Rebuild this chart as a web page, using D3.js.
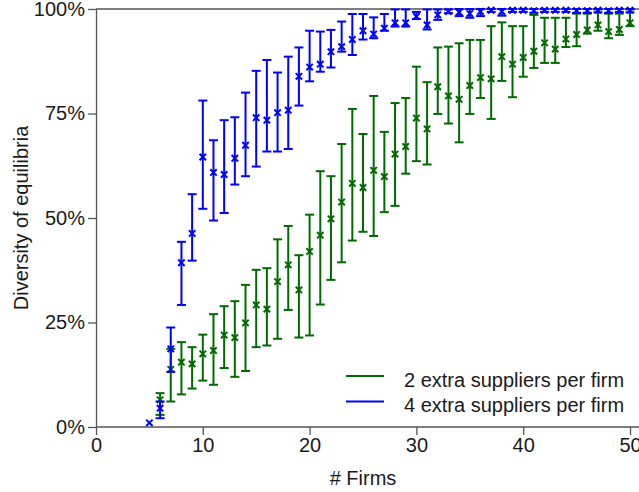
<!DOCTYPE html>
<html>
<head>
<meta charset="utf-8">
<script src="https://cdn.jsdelivr.net/npm/d3@7"></script>
<style>
  html, body { margin: 0; padding: 0; background: #fff; }
  svg { display: block; font-family: "Liberation Sans", Arial, sans-serif; }
</style>
</head>
<body>
<svg id="chart" width="639" height="492"></svg>
<script>
// Number of firms for each series
const firmsTwo  = d3.range(6, 51);
const firmsFour = d3.range(5, 51);

// 2 extra suppliers per firm: mean, lower and upper bound (%)
const meanTwo = [6.5, 13.8, 15.5, 15.1, 17.5, 18.3, 22.0, 21.4, 24.9, 29.2,
  28.2, 34.8, 38.8, 32.8, 42.0, 45.9, 49.8, 53.8, 58.3, 57.3,
  61.4, 59.9, 65.3, 67.1, 73.9, 71.3, 81.4, 79.2, 78.4, 81.7,
  83.6, 83.3, 88.6, 86.8, 88.4, 89.9, 91.9, 90.4, 92.8, 93.9,
  95.0, 96.2, 94.6, 95.1, 96.7];
const lowTwo = [2.9, 6.1, 7.8, 9.2, 11.1, 10.1, 14.1, 12.0, 13.4, 19.1,
  19.5, 21.1, 28.0, 21.4, 21.9, 29.3, 35.2, 39.4, 44.6, 46.7,
  45.7, 51.4, 52.9, 60.6, 63.6, 62.8, 74.9, 72.6, 68.1, 74.9,
  78.7, 73.7, 82.8, 78.9, 83.8, 85.9, 87.1, 87.1, 90.9, 91.1,
  94.1, 94.8, 93.0, 93.8, 95.9];
const highTwo = [8.1, 18.7, 20.3, 19.1, 22.1, 27.0, 28.9, 30.1, 34.0, 37.6,
  38.0, 44.9, 48.1, 41.1, 50.8, 61.2, 60.0, 67.7, 76.1, 70.1,
  79.2, 70.6, 77.5, 78.7, 86.2, 82.5, 90.8, 91.0, 91.8, 92.6,
  92.6, 95.9, 96.8, 95.9, 95.9, 98.6, 97.9, 97.9, 97.9, 98.9,
  98.9, 99.9, 98.9, 98.9, 99.9];

// 4 extra suppliers per firm: mean, lower and upper bound (%)
const meanFour = [1.0, 4.5, 18.7, 39.3, 46.3, 64.6, 60.9, 60.4, 64.3, 67.4,
  74.0, 73.4, 75.2, 75.8, 83.9, 86.1, 86.8, 89.8, 91.0, 92.7,
  94.8, 94.0, 95.4, 96.7, 96.7, 98.2, 96.2, 98.6, 99.4, 99.2,
  98.9, 99.4, 99.7, 99.4, 99.7, 99.7, 99.6, 99.7, 99.7, 99.7,
  99.6, 99.6, 99.7, 99.6, 99.7, 99.7];
const lowFour = [1.0, 2.1, 13.2, 29.2, 39.8, 52.2, 49.4, 51.2, 58.0, 60.0,
  62.3, 65.9, 65.9, 66.5, 76.9, 82.7, 85.0, 86.0, 89.8, 89.0,
  92.7, 93.0, 94.8, 95.8, 95.8, 97.6, 95.1, 97.4, 99.0, 98.3,
  97.9, 98.3, 99.3, 98.4, 99.3, 99.3, 99.1, 99.3, 99.3, 99.3,
  99.1, 99.1, 99.2, 99.1, 99.3, 99.2];
const highFour = [1.0, 6.1, 23.8, 44.3, 55.7, 78.1, 68.6, 73.4, 74.1, 80.0,
  85.2, 87.8, 84.8, 88.6, 90.8, 94.8, 94.6, 95.0, 97.0, 98.8,
  98.8, 98.0, 98.8, 99.9, 99.9, 99.3, 99.9, 99.9, 99.9, 100,
  100, 100, 100, 100, 100, 100, 100, 100, 100, 100,
  100, 100, 100, 100, 100, 100];

// Axis ticks and labels
const xTicks = [0, 10, 20, 30, 40, 50];
const yTicks = [0, 25, 50, 75, 100];
const legendLabels = ["2 extra suppliers per firm", "4 extra suppliers per firm"];
const seriesColors = ["#006a00", "#0000ff"];

const svg = d3.select("#chart");
const W = 639;

const x = d3.scaleLinear().domain([0, 50]).range([96, 630]);
const y = d3.scaleLinear().domain([0, 100]).range([427, 9]);

const axisColor = "#555";
const textColor = "#1a1a1a";

// Frame lines: top border and extended bottom baseline
svg.append("line")
  .attr("x1", x(0)).attr("x2", W)
  .attr("y1", y(100)).attr("y2", y(100))
  .attr("stroke", axisColor).attr("stroke-width", 1.3);

// x axis
const gx = svg.append("g")
  .attr("transform", `translate(0,${y(0)})`)
  .call(d3.axisBottom(x).tickValues(xTicks).tickSize(8).tickPadding(3).tickSizeOuter(0));
gx.select(".domain").remove();
gx.append("line").attr("x1", x(0)).attr("x2", W).attr("y1", 0).attr("y2", 0)
  .attr("stroke", axisColor).attr("stroke-width", 1.3);
gx.selectAll(".tick line").attr("stroke", axisColor).attr("stroke-width", 1.3);
gx.selectAll(".tick text").attr("fill", textColor)
  .style("font-size", "20px").style("font-family", "Liberation Sans, Arial, sans-serif");

// y axis
const gy = svg.append("g")
  .attr("transform", `translate(${x(0)},0)`)
  .call(d3.axisLeft(y).tickValues(yTicks).tickFormat(d => d + "%")
    .tickSize(8).tickPadding(3).tickSizeOuter(0));
gy.select(".domain").attr("stroke", axisColor).attr("stroke-width", 1.3);
gy.selectAll(".tick line").attr("stroke", axisColor).attr("stroke-width", 1.3);
gy.selectAll(".tick text").attr("fill", textColor)
  .style("font-size", "20px").style("font-family", "Liberation Sans, Arial, sans-serif");

// Axis titles
svg.append("text")
  .attr("x", x(25)).attr("y", 485)
  .attr("text-anchor", "middle")
  .attr("fill", textColor)
  .style("font-size", "20px")
  .text("# Firms");

svg.append("text")
  .attr("transform", `translate(28,${y(50)}) rotate(-90)`)
  .attr("text-anchor", "middle")
  .attr("fill", textColor)
  .style("font-size", "20px")
  .text("Diversity of equilibria");

// Error bars with x markers
function drawSeries(firms, mean, low, high, color) {
  const rows = firms.map((f, i) => ({ f, m: mean[i], lo: low[i], hi: high[i] }));
  const g = svg.append("g")
    .attr("stroke", color).attr("stroke-width", 2).attr("fill", "none");
  const capW = 4.5;
  const withBar = rows.filter(d => d.hi > d.lo);

  g.selectAll("line.bar").data(withBar).join("line")
    .attr("x1", d => x(d.f)).attr("x2", d => x(d.f))
    .attr("y1", d => y(d.lo)).attr("y2", d => y(d.hi));
  g.selectAll("line.capHi").data(withBar).join("line")
    .attr("class", "capHi")
    .attr("x1", d => x(d.f) - capW).attr("x2", d => x(d.f) + capW)
    .attr("y1", d => y(d.hi)).attr("y2", d => y(d.hi));
  g.selectAll("line.capLo").data(withBar).join("line")
    .attr("class", "capLo")
    .attr("x1", d => x(d.f) - capW).attr("x2", d => x(d.f) + capW)
    .attr("y1", d => y(d.lo)).attr("y2", d => y(d.lo));

  const s = 3.2;
  g.selectAll("path.mark").data(rows).join("path")
    .attr("class", "mark")
    .attr("d", d => {
      const cx = x(d.f), cy = y(d.m);
      return `M${cx - s},${cy - s}L${cx + s},${cy + s}M${cx - s},${cy + s}L${cx + s},${cy - s}`;
    });
}

drawSeries(firmsTwo, meanTwo, lowTwo, highTwo, seriesColors[0]);
drawSeries(firmsFour, meanFour, lowFour, highFour, seriesColors[1]);

// Legend
const legend = svg.append("g");
legendLabels.forEach((label, i) => {
  const ly = 376 + i * 25.5;
  legend.append("line")
    .attr("x1", 346).attr("x2", 384)
    .attr("y1", ly).attr("y2", ly)
    .attr("stroke", seriesColors[i]).attr("stroke-width", 2);
  legend.append("text")
    .attr("x", 404).attr("y", ly + 10.5)
    .attr("fill", textColor)
    .style("font-size", "20px")
    .text(label);
});
</script>
</body>
</html>
